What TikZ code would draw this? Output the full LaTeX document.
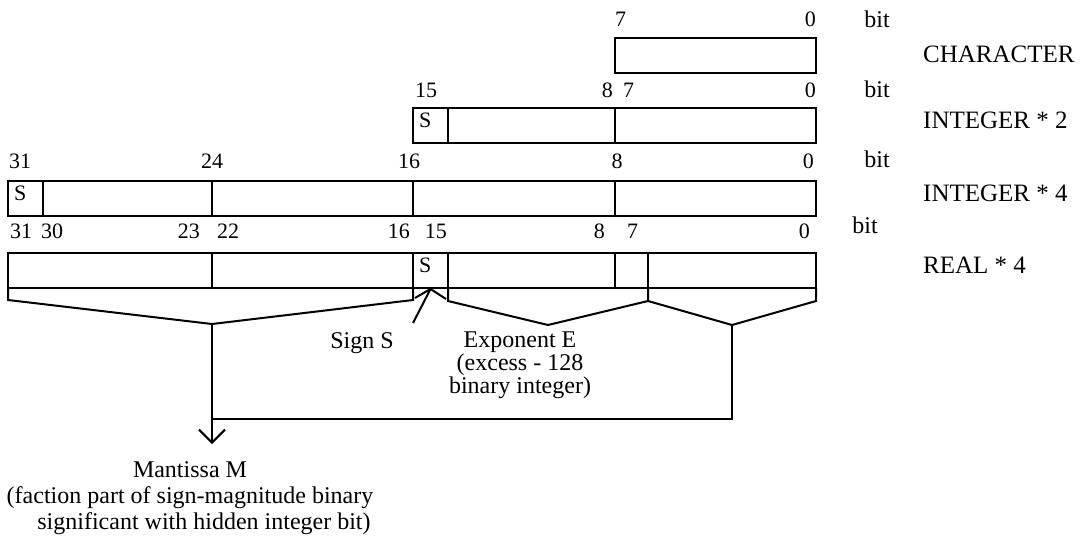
\documentclass[tikz,border=0pt]{standalone}
\usepackage{fontspec}
\setmainfont{Liberation Serif}
\usetikzlibrary{calc}
\usetikzlibrary{positioning}
\usetikzlibrary{arrows.meta}

\begin{document}
\begin{tikzpicture}[x=1pt, y=-1pt, font=\fontsize{24}{28}\selectfont]
  \tikzset{
    field/.style={draw, rectangle, line width=2pt, minimum width=#1, minimum height=35pt, inner sep=0pt, outer sep=0pt, anchor=north west},
    sbit/.style={field=35pt, label={[stext]north west:S}},
    stext/.style={anchor=north west, inner sep=0pt, xshift=6pt, yshift=-5pt, font=\fontsize{22}{22}\selectfont},
    num/.style={inner sep=0pt, font=\fontsize{22}{22}\selectfont},
    kind/.style={inner sep=0pt, font=\fontsize{25}{28}\selectfont},
    txt/.style={inner sep=0pt, align=center},
    line/.style={draw, line width=2pt},
    arrow/.style={line, -{Straight Barb[length=13pt, width=26pt]}},
  }
  \useasboundingbox (0,0) rectangle (1086,535);

  % CHARACTER
  \node [field=201pt] (ch) at (615,38) {};
  \node [num, anchor=base west] (ch7) at ([yshift=11pt]ch.north west) {7};
  \node [num, anchor=base east] (ch0) at ([yshift=11pt]ch.north east) {0};
  \node [anchor=base] (bit1) at (877,28) {bit};
  \node [kind, right=107pt of ch, yshift=1pt] (chname) {CHARACTER};

  % INTEGER*2
  \node [sbit] (i2s) at (413,108) {};
  \node [field=167pt] (i2h) at (i2s.north east) {};
  \node [field=201pt] (i2l) at (i2h.north east) {};
  \node [num, anchor=base west] (i2n15) at ([xshift=2pt, yshift=11pt]i2s.north west) {15};
  \node [num, anchor=base east] (i2n8) at ([xshift=-2pt, yshift=11pt]i2l.north west) {8};
  \node [num, anchor=base west] (i2n7) at ([xshift=8pt, yshift=11pt]i2l.north west) {7};
  \node [num, anchor=base east] (i2n0) at ([yshift=11pt]i2l.north east) {0};
  \node [anchor=base] (bit2) at (877,97) {bit};
  \node [kind, right=107pt of i2l, yshift=5pt] (i2name) {INTEGER * 2};

  % INTEGER*4
  \node [sbit] (i4s) at (8,181) {};
  \node [field=169pt] (i4a) at (i4s.north east) {};
  \node [field=201pt] (i4b) at (i4a.north east) {};
  \node [field=202pt] (i4c) at (i4b.north east) {};
  \node [field=201pt] (i4d) at (i4c.north east) {};
  \node [num, anchor=base west] (i4n31) at ([xshift=1pt, yshift=13pt]i4s.north west) {31};
  \node [num, anchor=base] (i4n24) at ([yshift=13pt]i4b.north west) {24};
  \node [num, anchor=base] (i4n16) at ([xshift=-4pt, yshift=13pt]i4c.north west) {16};
  \node [num, anchor=base] (i4n8) at ([xshift=2pt, yshift=13pt]i4d.north west) {8};
  \node [num, anchor=base east] (i4n0) at ([xshift=-2pt, yshift=13pt]i4d.north east) {0};
  \node [anchor=base] (bit3) at (877,167) {bit};
  \node [kind, right=107pt of i4d, yshift=5pt] (i4name) {INTEGER * 4};

  % REAL*4
  \node [field=204pt] (r4a) at (8,253) {};
  \node [field=201pt] (r4b) at (r4a.north east) {};
  \node [sbit] (r4s) at (r4b.north east) {};
  \node [field=167pt] (r4e) at (r4s.north east) {};
  \node [field=33pt] (r4f) at (r4e.north east) {};
  \node [field=168pt] (r4g) at (r4f.north east) {};
  \node [num, anchor=base west] (r4n31) at ([xshift=2pt, yshift=15pt]r4a.north west) {31};
  \node [num, anchor=base west] (r4n30) at ([xshift=33pt, yshift=15pt]r4a.north west) {30};
  \node [num, anchor=base east] (r4n23) at ([xshift=-12pt, yshift=15pt]r4a.north east) {23};
  \node [num, anchor=base west] (r4n22) at ([xshift=5pt, yshift=15pt]r4b.north west) {22};
  \node [num, anchor=base east] (r4n16) at ([xshift=-3pt, yshift=15pt]r4b.north east) {16};
  \node [num, anchor=base east] (r4n15) at ([xshift=-1pt, yshift=15pt]r4s.north east) {15};
  \node [num, anchor=base east] (r4n8) at ([xshift=-10pt, yshift=15pt]r4e.north east) {8};
  \node [num, anchor=base west] (r4n7) at ([xshift=12pt, yshift=15pt]r4f.north west) {7};
  \node [num, anchor=base east] (r4n0) at ([xshift=-6pt, yshift=15pt]r4g.north east) {0};
  \node [anchor=base] (bit4) at (865,233) {bit};
  \node [kind, right=107pt of r4g, yshift=5pt] (r4name) {REAL * 4};

  % what the REAL*4 fields are
  \node [txt, anchor=base] (sgn) at (362,348) {Sign S};
  \node [txt, anchor=north, font=\fontsize{24}{23}\selectfont] (expo) at (520,332)
    {Exponent E\\(excess - 128\\binary integer)};
  \node [txt, anchor=north, font=\fontsize{24}{26}\selectfont] (man) at (190,461)
    {Mantissa M\\(faction part of sign-magnitude binary\\\hspace*{28pt}significant with hidden integer bit)};
  \coordinate (send) at (413,323);

  \path [line] (r4a.south west) -- ++(0,12) -- ($(r4a.south east)+(0,36)$) coordinate (mtop)
    -- ($(r4b.south east)+(0,12)$) -- (r4b.south east);
  \path [line] ($(r4s.south west)+(2,10)$) -- ($(r4s.south)+(0,1)$) coordinate (stop)
    -- ($(r4s.south east)+(-2,11)$);
  \path [line] (r4e.south west) -- ++(0,13) -- ($(r4e.south west)!.5!(r4f.south east)+(0,37)$)
    -- ($(r4f.south east)+(0,13)$) -- (r4f.south east);
  \path [line] ($(r4f.south east)+(0,13)$) -- ($(r4g.south)+(0,37)$) coordinate (ftop)
    -- ($(r4g.south east)+(0,13)$) -- (r4g.south east);
  \path [line] (stop) -- (send);
  \path [line] (ftop) |- ($(mtop)+(0,95)$);
  \path [arrow] (mtop) -- ($(mtop)+(0,120)$);
\end{tikzpicture}
\end{document}
